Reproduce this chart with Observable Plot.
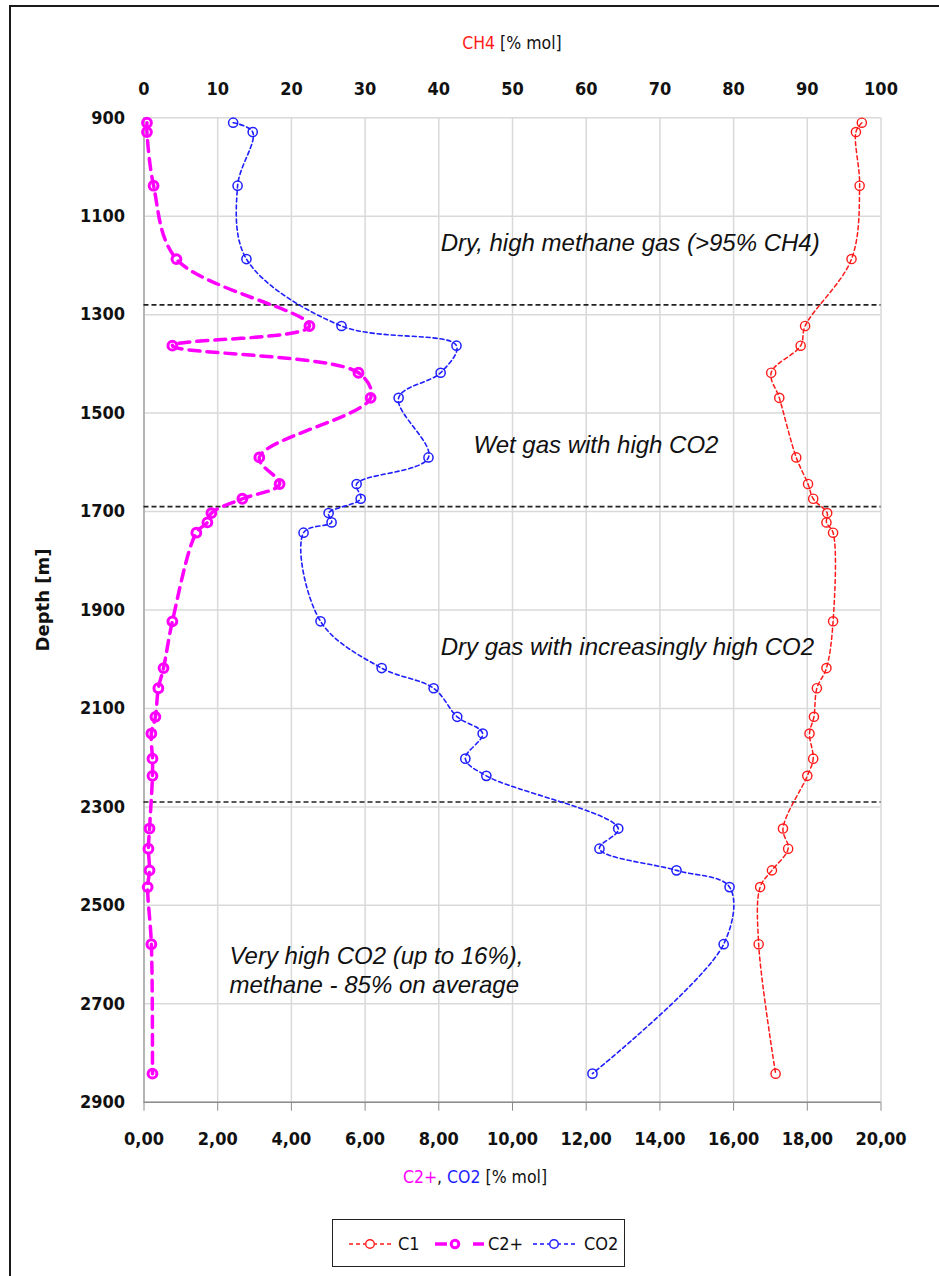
<!DOCTYPE html>
<html>
<head>
<meta charset="utf-8">
<script src="https://cdn.jsdelivr.net/npm/d3@7"></script>
<script src="https://cdn.jsdelivr.net/npm/@observablehq/plot@0.6"></script>
<style>
  body { margin: 0; background: #fff; }
  #wrap { position: relative; width: 939px; height: 1276px; overflow: hidden; background: #fff; }
  #frame { position: absolute; left: 9px; top: 5px; width: 1000px; height: 1400px;
           border-top: 2px solid #1a1a1a; border-left: 2px solid #1a1a1a; }
  .layer { position: absolute; left: 0; top: 0; }
  .narrow { font-family: "Liberation Sans Narrow", "DejaVu Sans Condensed", sans-serif; color: #111; white-space: nowrap; }
  #ttlTop { position: absolute; left: 143.5px; width: 737px; top: 32px; text-align: center; font-size: 17.5px; line-height: 22px; }
  #ttlBot { position: absolute; left: 275px; width: 400px; top: 1166px; text-align: center; font-size: 17.5px; line-height: 22px; }
  #ttlY { position: absolute; left: 42px; top: 600px; transform: translate(-50%, -50%) rotate(-90deg);
          font-family: "DejaVu Sans", Verdana, sans-serif; font-weight: bold; font-size: 18px; color: #111; white-space: nowrap; }
  #legend { position: absolute; left: 332px; top: 1219px; width: 293px; height: 48px; border: 1.5px solid #222; box-sizing: border-box; background: #fff; }
</style>
</head>
<body>
<div id="wrap">
  <div id="frame"></div>
  <div id="base" class="layer"></div>
  <div id="over" class="layer"></div>
  <div id="ttlTop" class="narrow"><span style="color:#ff1a1a">CH4</span> [% mol]</div>
  <div id="ttlBot" class="narrow"><span style="color:#ff00ff">C2+</span>, <span style="color:#1f1fff">CO2</span> [% mol]</div>
  <div id="ttlY">Depth [m]</div>
  <div id="legend"></div>
</div>
<script>
// ---- data ----
const depth  = [910, 929, 1038, 1187, 1323, 1363, 1418, 1469, 1590, 1644, 1674, 1703, 1722, 1743, 1923, 2018, 2059, 2117, 2151, 2202, 2237, 2344, 2385, 2429, 2463, 2579, 2842];
const c1     = [97.4, 96.6, 97.1, 96.0, 89.7, 89.1, 85.1, 86.2, 88.5, 90.1, 90.8, 92.7, 92.6, 93.5, 93.5, 92.6, 91.3, 90.9, 90.3, 90.8, 90.0, 86.7, 87.4, 85.2, 83.6, 83.4, 85.7];
const c2plus = [0.08, 0.08, 0.26, 0.88, 4.49, 0.77, 5.82, 6.15, 3.13, 3.68, 2.67, 1.83, 1.72, 1.42, 0.77, 0.53, 0.39, 0.31, 0.20, 0.23, 0.23, 0.15, 0.12, 0.15, 0.10, 0.20, 0.23];
const co2    = [2.42, 2.95, 2.54, 2.78, 5.36, 8.48, 8.05, 6.91, 7.72, 5.77, 5.88, 5.01, 5.09, 4.33, 4.79, 6.45, 7.86, 8.50, 9.19, 8.72, 9.29, 12.87, 12.36, 14.45, 15.89, 15.73, 12.17];

const depthTicks = [900, 1100, 1300, 1500, 1700, 1900, 2100, 2300, 2500, 2700, 2900];
const ch4Ticks   = [0, 10, 20, 30, 40, 50, 60, 70, 80, 90, 100];
const pctTicks   = [0, 2, 4, 6, 8, 10, 12, 14, 16, 18, 20];
const boundaries = [1280, 1690, 2290];

const noteTexts  = ["Dry, high methane gas (>95% CH4)", "Wet gas with high CO2", "Dry gas with increasingly high CO2", "Very high CO2 (up to 16%),\nmethane - 85% on average"];
const notePct    = [8.05, 8.94, 8.05, 2.32];
const noteDepth  = [1151, 1562, 1972, 2630];

const seriesNames = ["C1", "C2+", "CO2"];

// ---- tables built from the arrays ----
const rows  = depth.map((d, i) => ({depth: d, c1: c1[i], c2: c2plus[i], co2: co2[i]}));
const notes = noteTexts.map((t, i) => ({text: t, x: notePct[i], y: noteDepth[i]}));

// ---- layout ----
const W = 939, H = 1200;
const ML = 143.5, MR = W - 880.5, MT = 117.3, MB = H - 1101.7;
const FT = '"Liberation Sans Narrow", "DejaVu Sans Condensed", sans-serif';
const RED = "#ff1a1a", MAG = "#ff00ff", BLUE = "#1f1fff";
const fmtPct = v => v.toFixed(2).replace(".", ",");

const common = {
  width: W, height: H, marginLeft: ML, marginRight: MR, marginTop: MT, marginBottom: MB,
  style: {background: "transparent", overflow: "visible", color: "#111"}
};

const base = Plot.plot({
  ...common,
  x: {domain: [0, 20]},
  y: {domain: [900, 2900], reverse: true},
  marks: [
    Plot.gridX(pctTicks, {stroke: "#d9d9d9", strokeOpacity: 1, strokeWidth: 1.5}),
    Plot.gridY(depthTicks, {stroke: "#d9d9d9", strokeOpacity: 1, strokeWidth: 1.5}),
    Plot.ruleX([0], {stroke: "#a6a6a6", strokeWidth: 1.5}),
    Plot.ruleY([2900], {stroke: "#8c8c8c", strokeWidth: 1.5}),
    Plot.axisY(depthTicks, {anchor: "left", tickSize: 0, tickPadding: 19, label: null,
      fontSize: 18, fontWeight: "bold", fontFamily: FT, tickFormat: d => String(d)}),
    Plot.axisX(pctTicks, {anchor: "bottom", tickSize: 9, tickPadding: 21, label: null, stroke: "#8c8c8c",
      fontSize: 18, fontWeight: "bold", fontFamily: FT, tickFormat: fmtPct}),
    Plot.ruleY(boundaries, {stroke: "#222", strokeWidth: 1.6, strokeDasharray: "5,3"}),
    Plot.line(rows, {x: "co2", y: "depth", curve: "catmull-rom", stroke: BLUE, strokeWidth: 1.6, strokeDasharray: "4,3"}),
    Plot.dot(rows, {x: "co2", y: "depth", r: 4.6, stroke: BLUE, strokeWidth: 1.5, fill: "none"}),
    Plot.line(rows, {x: "c2", y: "depth", curve: "catmull-rom", stroke: MAG, strokeWidth: 3.5, strokeDasharray: "11,7"}),
    Plot.dot(rows, {x: "c2", y: "depth", r: 4.4, stroke: MAG, strokeWidth: 3, fill: "none"}),
    Plot.text(notes, {x: "x", y: "y", text: "text", textAnchor: "start", lineAnchor: "middle", lineHeight: 1.2,
      fontSize: 24, fontStyle: "italic", fontFamily: '"Liberation Sans", Arial, sans-serif', fill: "#111"})
  ]
});
document.getElementById("base").appendChild(base);

const over = Plot.plot({
  ...common,
  x: {domain: [0, 100]},
  y: {domain: [900, 2900], reverse: true, axis: null},
  marks: [
    Plot.axisX(ch4Ticks, {anchor: "top", tickSize: 0, tickPadding: 23, label: null,
      fontSize: 18, fontWeight: "bold", fontFamily: FT}),
    Plot.line(rows, {x: "c1", y: "depth", curve: "catmull-rom", stroke: RED, strokeWidth: 1.5, strokeDasharray: "4,3"}),
    Plot.dot(rows, {x: "c1", y: "depth", r: 4.6, stroke: RED, strokeWidth: 1.4, fill: "none"})
  ]
});
document.getElementById("over").appendChild(over);

// ---- legend ----
const lg = d3.select("#legend").append("svg").attr("width", 290).attr("height", 45)
  .style("position", "absolute").style("left", "0px").style("top", "0px");
const cy = 24;
function swatch(color, w, dashes, cx, r, sw) {
  dashes.forEach(([a, b]) => lg.append("line").attr("x1", a).attr("x2", b).attr("y1", cy).attr("y2", cy)
    .attr("stroke", color).attr("stroke-width", w));
  lg.append("circle").attr("cx", cx).attr("cy", cy).attr("r", r)
    .attr("fill", "none").attr("stroke", color).attr("stroke-width", sw);
}
swatch(RED, 1.5, [[16, 20], [23, 27], [30, 32], [42, 44], [47, 51], [54, 58]], 37, 4.3, 1.4);
swatch(MAG, 3.5, [[102, 114], [140, 151]], 122, 3.8, 3);
swatch(BLUE, 1.6, [[200, 204], [207, 211], [214, 216], [226, 228], [231, 235], [238, 242]], 221, 4.3, 1.5);
[[seriesNames[0], 65], [seriesNames[1], 155], [seriesNames[2], 251]].forEach(([t, x]) =>
  lg.append("text").attr("x", x).attr("y", cy).attr("dy", "0.35em")
    .attr("font-family", FT).attr("font-size", 18).attr("fill", "#111").text(t));
</script>
</body>
</html>
